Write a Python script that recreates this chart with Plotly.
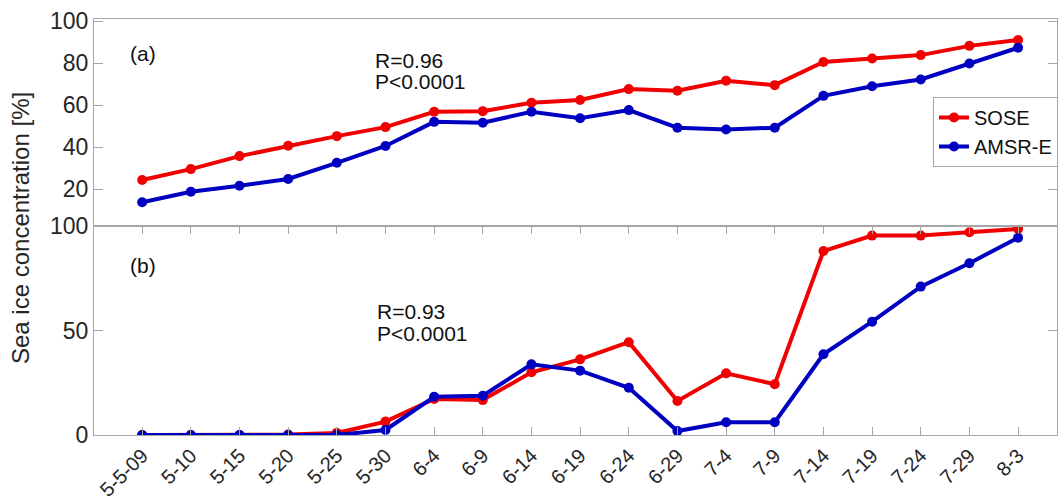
import plotly.graph_objects as go

dates = ["5-5-09", "5-10", "5-15", "5-20", "5-25", "5-30", "6-4", "6-9", "6-14", "6-19",
         "6-24", "6-29", "7-4", "7-9", "7-14", "7-19", "7-24", "7-29", "8-3"]

sose_a = [24.3, 29.5, 35.7, 40.6, 45.2, 49.5, 56.8, 57.1, 61.1, 62.4,
          67.6, 66.8, 71.6, 69.5, 80.5, 82.2, 83.8, 88.2, 91.0]
amsr_a = [13.7, 18.7, 21.6, 24.8, 32.5, 40.5, 52.0, 51.6, 56.8, 53.7,
          57.6, 49.2, 48.4, 49.2, 64.4, 69.0, 72.2, 79.8, 87.3]

sose_b = [0.0, 0.0, 0.0, 0.2, 1.0, 6.4, 17.2, 16.7, 30.0, 36.2,
          44.4, 16.3, 29.5, 24.3, 88.0, 95.4, 95.4, 97.0, 98.6]
amsr_b = [0.0, 0.0, 0.0, 0.0, 0.0, 2.4, 18.3, 18.8, 33.8, 30.8,
          22.6, 1.9, 6.1, 6.1, 38.6, 54.2, 71.0, 82.2, 94.4]

yticks_a = [20, 40, 60, 80, 100]
yticks_b = [0, 50, 100]

RED = "#f00000"
BLUE = "#0000c0"
AX = "#a6a6a6"
TXT = "#262626"
FONT = "Liberation Sans, Arial, sans-serif"

idx = list(range(len(dates)))

fig = go.Figure()

def add(y, color, name, xa, ya, show):
    fig.add_trace(go.Scatter(
        x=idx, y=y, mode="lines+markers", name=name, showlegend=show,
        line=dict(color=color, width=4), marker=dict(color=color, size=10),
        xaxis=xa, yaxis=ya))

add(sose_a, RED, "SOSE", "x2", "y2", True)
add(amsr_a, BLUE, "AMSR-E", "x2", "y2", True)
add(sose_b, RED, "SOSE", "x", "y", False)
add(amsr_b, BLUE, "AMSR-E", "x", "y", False)

xr = [-0.99, 18.8]
split = 209 / 416

fig.update_layout(
    width=1058, height=502,
    margin=dict(l=94, r=1, t=19, b=67, autoexpand=False),
    paper_bgcolor="white", plot_bgcolor="white",
    font=dict(family=FONT, color=TXT, size=19),
    xaxis=dict(domain=[0, 1], range=xr, anchor="y", automargin=False,
               tickmode="array", tickvals=idx, ticktext=dates, tickangle=-45,
               ticks="inside", ticklen=8, tickcolor=AX, tickwidth=1,
               showline=True, linecolor=AX, linewidth=1, mirror="ticks",
               showgrid=False, zeroline=False,
               tickfont=dict(size=20, color=TXT, family=FONT)),
    xaxis2=dict(domain=[0, 1], range=xr, anchor="y2", matches="x", automargin=False,
                tickmode="array", tickvals=idx, showticklabels=False,
                ticks="", showline=True, linecolor=AX, linewidth=1, mirror=True,
                showgrid=False, zeroline=False),
    yaxis=dict(domain=[0, split], range=[0, 100], anchor="x", automargin=False,
               tickmode="array", tickvals=yticks_b,
               ticks="inside", ticklen=9, tickcolor=AX,
               showline=True, linecolor=AX, linewidth=1, mirror="ticks",
               showgrid=False, zeroline=False,
               tickfont=dict(size=23, color=TXT, family=FONT)),
    yaxis2=dict(domain=[split, 1], range=[2.4, 101], anchor="x2", automargin=False,
                tickmode="array", tickvals=yticks_a,
                ticks="inside", ticklen=9, tickcolor=AX,
                showline=True, linecolor=AX, linewidth=1, mirror="ticks",
                showgrid=False, zeroline=False,
                tickfont=dict(size=23, color=TXT, family=FONT)),
    legend=dict(x=(933 - 94) / 963, y=(435 - 97) / 416, xanchor="left", yanchor="top",
                bgcolor="white", bordercolor=AX, borderwidth=1,
                font=dict(size=20, color="#111111", family=FONT),
                itemwidth=30, tracegroupgap=0),
)

ann = [
    dict(text="(a)", x=-0.3, y=84.8, xref="x2", yref="y2", size=21),
    dict(text="R=0.96", x=4.75, y=81.1, xref="x2", yref="y2", size=21),
    dict(text="P<0.0001", x=4.75, y=71.1, xref="x2", yref="y2", size=21),
    dict(text="(b)", x=-0.3, y=81.3, xref="x", yref="y", size=21),
    dict(text="R=0.93", x=4.79, y=59.0, xref="x", yref="y", size=21),
    dict(text="P<0.0001", x=4.79, y=48.7, xref="x", yref="y", size=21),
]
for a in ann:
    fig.add_annotation(text=a["text"], x=a["x"], y=a["y"], xref=a["xref"], yref=a["yref"],
                       xanchor="left", yanchor="middle", showarrow=False,
                       font=dict(size=a["size"], color="#111111", family=FONT))

fig.add_annotation(text="Sea ice concentration [%]", xref="paper", yref="paper",
                   x=(20 - 94) / 963, y=(435 - 228) / 416, xanchor="center", yanchor="middle",
                   textangle=-90, showarrow=False,
                   font=dict(size=24, color=TXT, family=FONT))

fig.write_html("out.html")
